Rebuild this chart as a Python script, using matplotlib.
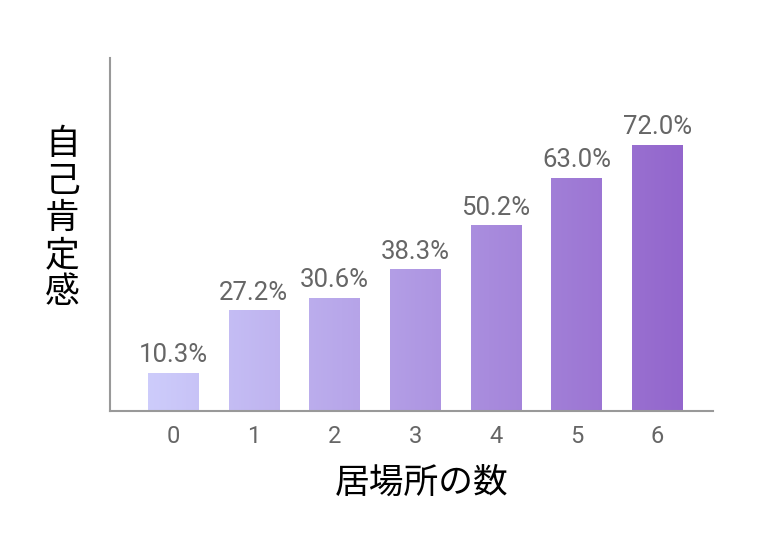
import numpy as np
import matplotlib
matplotlib.use("Agg")
import matplotlib.pyplot as plt
from matplotlib.colors import LinearSegmentedColormap

# data
categories = ["0", "1", "2", "3", "4", "5", "6"]
values = [10.3, 27.2, 30.6, 38.3, 50.2, 63.0, 72.0]
value_labels = ["10.3%", "27.2%", "30.6%", "38.3%", "50.2%", "63.0%", "72.0%"]
xlabel = "居場所の数"
ylabel = "自己肯定感"

plt.rcParams['font.family'] = ['Noto Sans CJK JP', 'DejaVu Sans']

fig = plt.figure(figsize=(7.6, 5.4), dpi=100)
ax = fig.add_axes([0.1447, 0.2389, 0.7933, 0.6537])

x = np.arange(len(categories))
width = 0.62
xmin, xmax = -0.78, 6.69
ax.set_xlim(xmin, xmax)
ax.set_ylim(0, 95.5)

# horizontal gradient across the whole plot, clipped into each bar
cmap = LinearSegmentedColormap.from_list("lav", ["#cdccfb", "#9366cc"])
bars = ax.bar(x, values, width=width, color="none", edgecolor="none")
for bar in bars:
    x0 = bar.get_x()
    x1 = x0 + bar.get_width()
    c0 = (x0 - (-0.31)) / (6.31 - (-0.31))
    c1 = (x1 - (-0.31)) / (6.31 - (-0.31))
    g = np.linspace(c0, c1, 64).reshape(1, -1)
    im = ax.imshow(g, cmap=cmap, vmin=0, vmax=1, aspect="auto",
                   extent=[x0, x1, 0, bar.get_height()], zorder=2)
    im.set_clip_path(bar)

ax.set_xlim(xmin, xmax)
ax.set_ylim(0, 95.5)

for xi, v, lab in zip(x, values, value_labels):
    ax.text(xi, v + 1.6, lab, ha="center", va="bottom", fontsize=18.5,
            color="#666666", family=["Roboto", "DejaVu Sans"])

ax.set_xticks(x)
ax.set_xticklabels(categories, fontsize=17, color="#666666",
                   family=["Roboto", "DejaVu Sans"])
ax.tick_params(axis="x", length=0, pad=10)
ax.set_yticks([])

for side in ["top", "right"]:
    ax.spines[side].set_visible(False)
ax.spines["left"].set_color("#999999")
ax.spines["bottom"].set_color("#999999")
ax.spines["left"].set_linewidth(1.5)
ax.spines["bottom"].set_linewidth(1.5)

fig.text(0.555, 0.105, xlabel, ha="center", va="center", fontsize=25,
         color="black")
fig.text(0.082, 0.595, "\n".join(ylabel), ha="center", va="center",
         fontsize=25, color="black", linespacing=1.07)

fig.savefig("out.png", dpi=100, facecolor="white")
